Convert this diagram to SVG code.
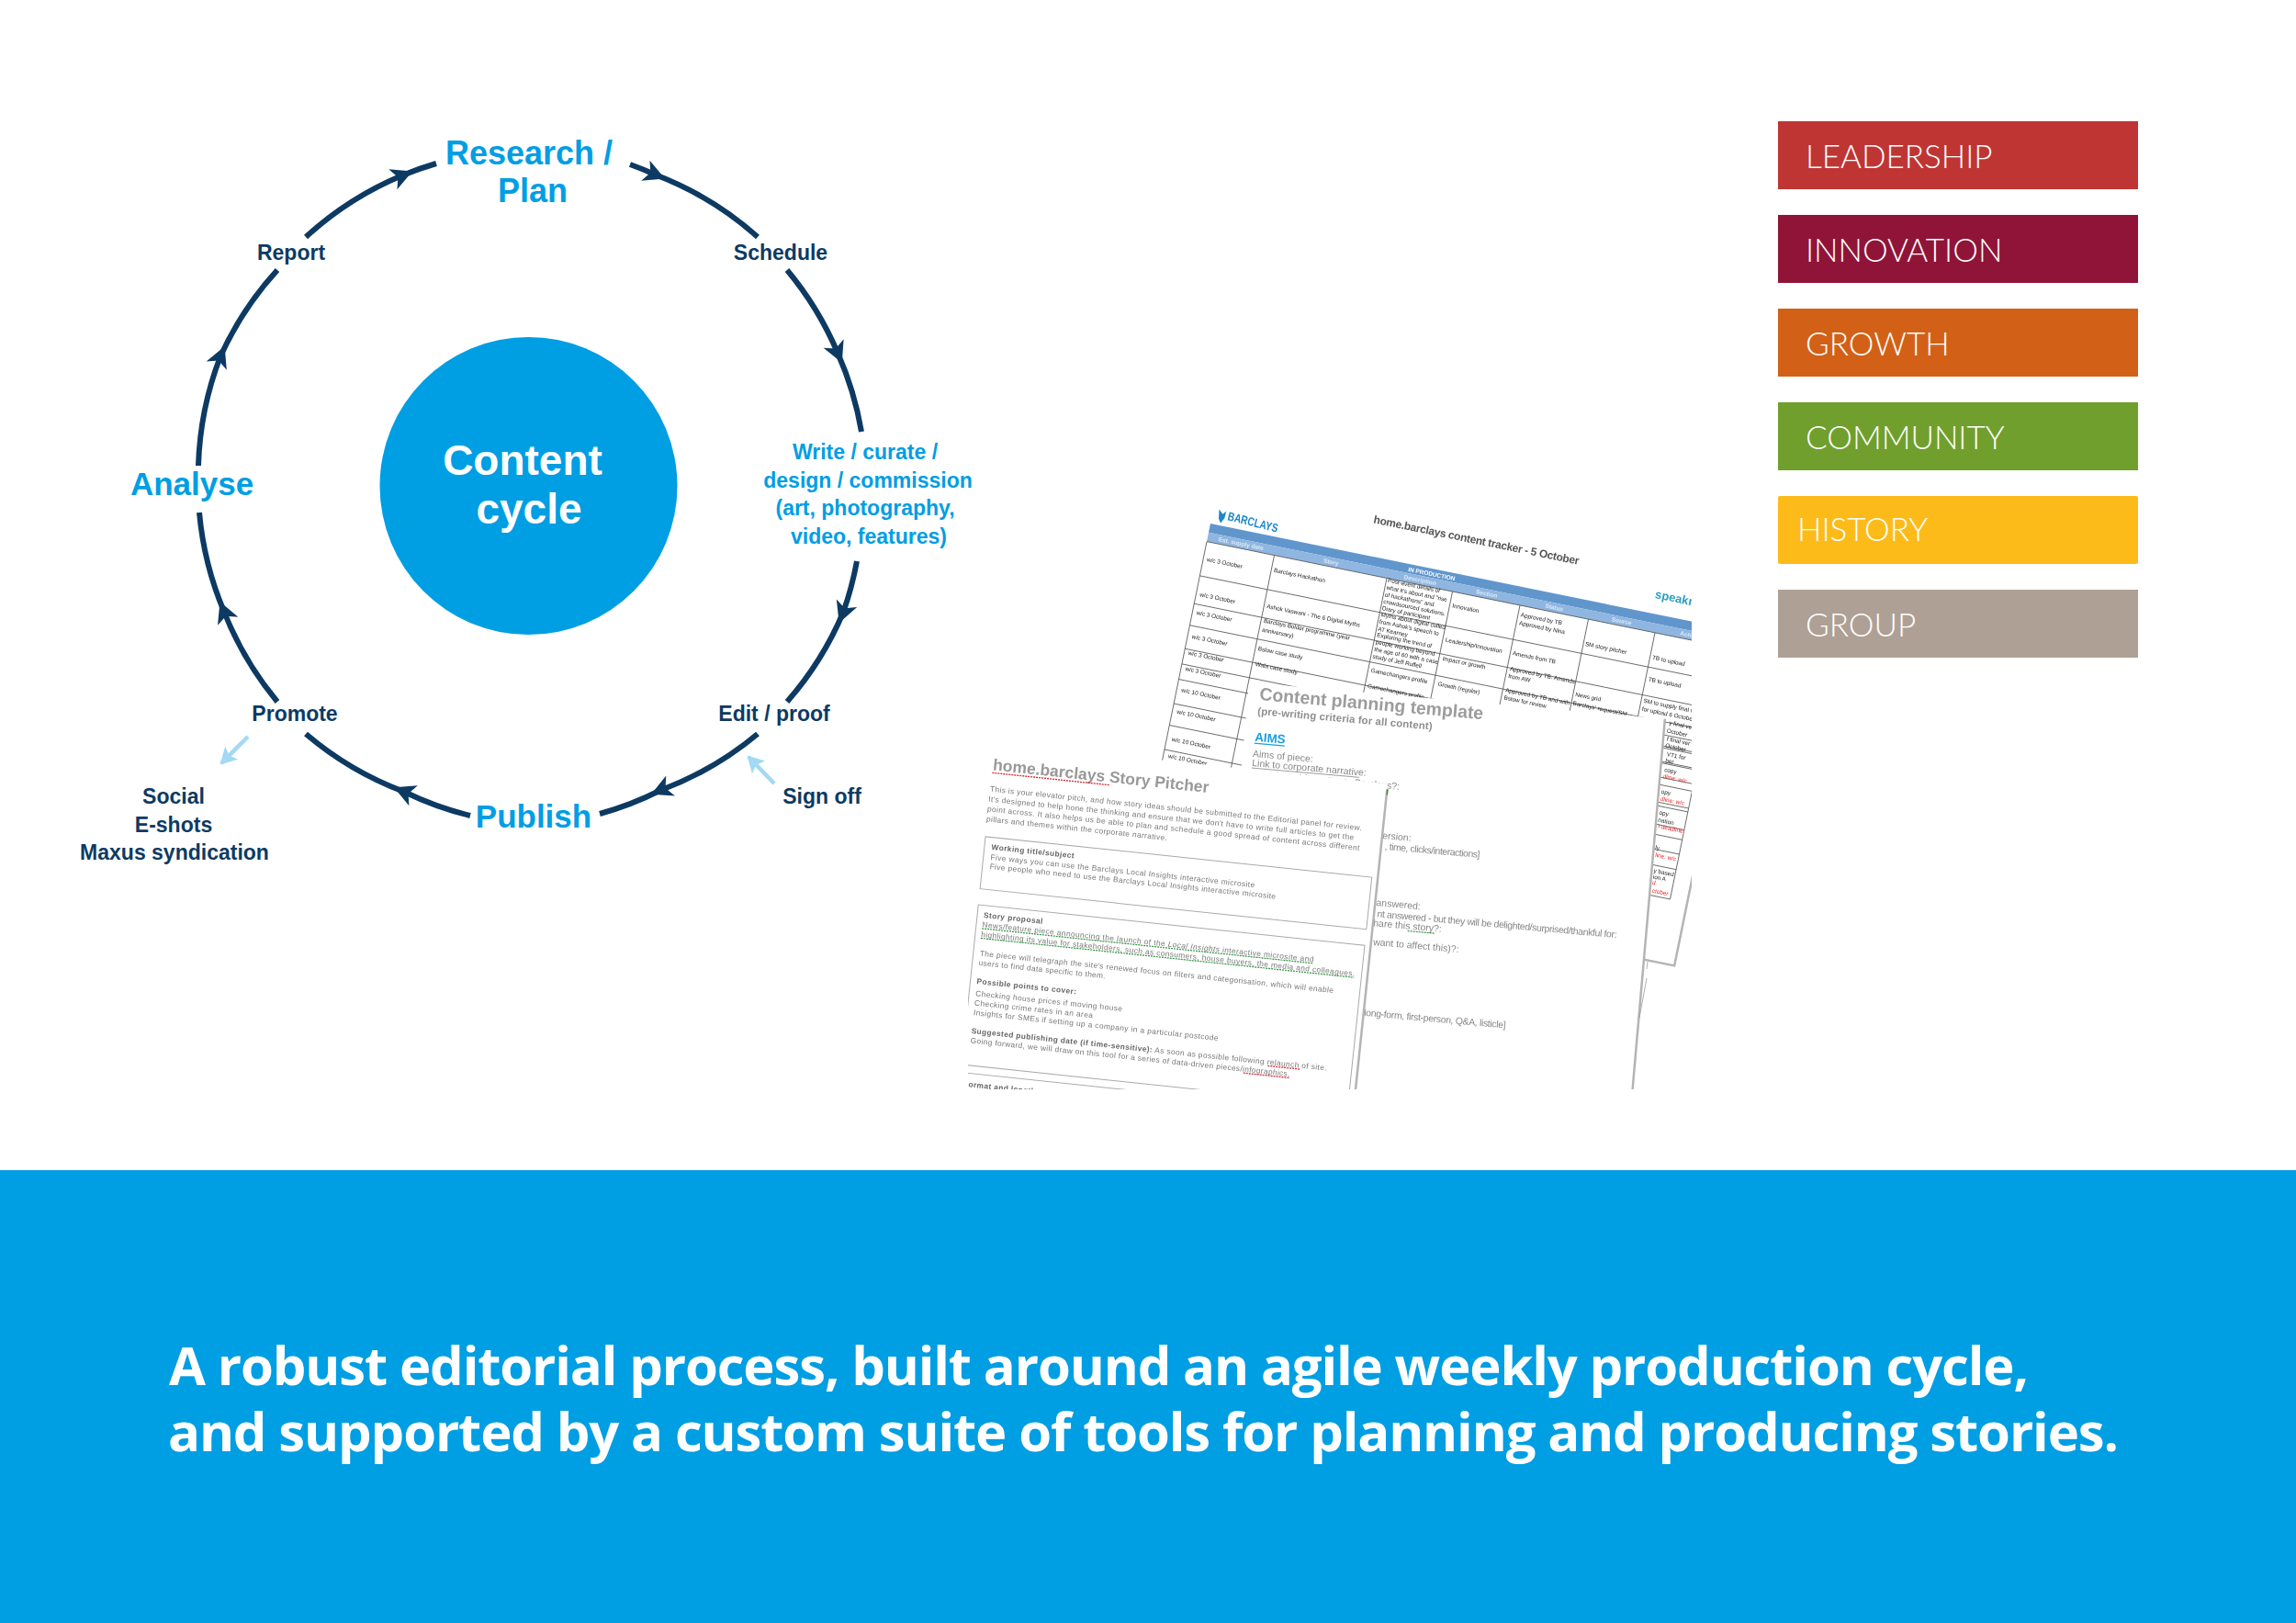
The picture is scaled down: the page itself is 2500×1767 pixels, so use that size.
<svg xmlns="http://www.w3.org/2000/svg" width="2500" height="1767" viewBox="0 0 2500 1767">
<style>
text{font-family:"Liberation Sans",Arial,sans-serif}
.ring{fill:none;stroke:#0d3a63;stroke-width:6;marker-mid:url(#head)}
.pale{fill:none;stroke:#a3d9f5;stroke-width:4.5;marker-end:url(#palehead)}
.big{font-size:36px;font-weight:700;fill:#009ee3;text-anchor:middle}
.step{font-size:23px;font-weight:700;fill:#0d3a63;text-anchor:middle}
.wr{font-size:23px;font-weight:700;fill:#009ee3;text-anchor:middle}
.hub{font-size:46px;font-weight:700;fill:#fff;text-anchor:middle}
.tag{font-family:Lato,"Open Sans",sans-serif;font-weight:300;font-size:35px;fill:#fff}
.ban{font-family:"Open Sans",sans-serif;font-weight:700;font-size:58px;fill:#fff}
.t{font-size:6.4px;fill:#222}
.th{font-size:6.5px;fill:#dbe9f6;font-weight:700;text-anchor:middle}
.r{font-size:6.4px;fill:#e8262a}
.tl{stroke:#555;stroke-width:.8;fill:none}
.p{font-size:10.5px;fill:#888}
.b{font-size:8.4px;fill:#777}
.bb{font-size:8.4px;fill:#666;font-weight:700}
.box{fill:none;stroke:#aaa;stroke-width:1}
.red{stroke:#d9232e;stroke-width:1.3;stroke-dasharray:2 1;fill:none}
.grn{stroke:#2f9140;stroke-width:1.2;stroke-dasharray:2 1;fill:none}
.shade{stroke:#b4b4b4;stroke-width:2.5;fill:none}
</style>
<defs>
<marker id="head" markerUnits="userSpaceOnUse" markerWidth="30" markerHeight="30" refX="15" refY="15" orient="auto"><path d="M4,3 L27,15 L4,27 L10,15 Z" fill="#0d3a63"/></marker>
<marker id="palehead" markerUnits="userSpaceOnUse" markerWidth="24" markerHeight="24" refX="18" refY="12" orient="auto"><path d="M2,2 L20,12 L2,22 L6,12 Z" fill="#a3d9f5"/></marker>
<clipPath id="docclip"><rect x="1054" y="520" width="788" height="666"/></clipPath>
<filter id="soft" x="-5%" y="-5%" width="110%" height="110%"><feGaussianBlur stdDeviation="0.45"/></filter>
</defs>
<rect width="2500" height="1767" fill="#fff"/>

<g id="connectors">
<path class="ring" d="M686,179 A360,360 0 0 1 713,190 A360,360 0 0 1 825,258"/>
<path class="ring" d="M857,294 A360,360 0 0 1 912,384 A360,360 0 0 1 938,470"/>
<path class="ring" d="M933,611 A360,360 0 0 1 918,667 A360,360 0 0 1 857,764"/>
<path class="ring" d="M825,799 A360,360 0 0 1 720,860 A360,360 0 0 1 653,886"/>
<path class="ring" d="M512,888 A360,360 0 0 1 440,862 A360,360 0 0 1 333,799"/>
<path class="ring" d="M302,764 A360,360 0 0 1 244,666 A360,360 0 0 1 217,558"/>
<path class="ring" d="M216,507 A360,360 0 0 1 240,388 A360,360 0 0 1 302,294"/>
<path class="ring" d="M333,258 A360,360 0 0 1 438,191 A360,360 0 0 1 475,178"/>
<path class="pale" d="M270,802 L241,831"/>
<path class="pale" d="M843,853 L815,824"/>
</g>

<g id="hub"><circle cx="575.500" cy="529" r="162" fill="#009ee3"/><text class="hub" x="569" y="517">Content</text><text class="hub" x="576" y="570">cycle</text></g>
<g id="research"><text class="big" x="576" y="179">Research /</text><text class="big" x="580" y="220">Plan</text></g>
<g id="schedule"><text class="step" x="850" y="283">Schedule</text></g>
<g id="write"><text class="wr" x="942" y="500">Write / curate /</text><text class="wr" x="945" y="531">design / commission</text><text class="wr" x="942" y="561">(art, photography,</text><text class="wr" x="946" y="592">video, features)</text></g>
<g id="edit"><text class="step" x="843" y="785">Edit / proof</text></g>
<g id="signoff"><text class="step" x="895" y="875">Sign off</text></g>
<g id="publish"><text class="big" x="581" y="901" style="font-size:35px">Publish</text></g>
<g id="promote"><text class="step" x="321" y="785">Promote</text></g>
<g id="channels"><text class="step" x="189" y="875">Social</text><text class="step" x="189" y="906">E-shots</text><text class="step" x="190" y="936">Maxus syndication</text></g>
<g id="analyse"><text class="big" x="209" y="539" style="font-size:35px">Analyse</text></g>
<g id="report"><text class="step" x="317" y="283">Report</text></g>

<g id="tag-leadership"><rect x="1936" y="132" width="392" height="74" fill="#bf3534"/><text class="tag" x="1966" y="183">LEADERSHIP</text></g>
<g id="tag-innovation"><rect x="1936" y="234" width="392" height="74" fill="#901438"/><text class="tag" x="1966" y="285">INNOVATION</text></g>
<g id="tag-growth"><rect x="1936" y="336" width="392" height="74" fill="#d26117"/><text class="tag" x="1966" y="387">GROWTH</text></g>
<g id="tag-community"><rect x="1936" y="438" width="392" height="74" fill="#709f2d"/><text class="tag" x="1966" y="489">COMMUNITY</text></g>
<g id="tag-history"><rect x="1936" y="540" width="392" height="74" rx="2" fill="#fdbb1a"/><text class="tag" x="1957" y="589">HISTORY</text></g>
<g id="tag-group"><rect x="1936" y="642" width="392" height="74" fill="#aea094"/><text class="tag" x="1966" y="693">GROUP</text></g>

<g id="documents" clip-path="url(#docclip)">
<g filter="url(#soft)">
<g id="tracker" transform="translate(1318,570) rotate(11.5)">
<rect x="0" y="0" width="600" height="10" fill="#6096cc"/>
<rect x="0" y="10" width="600" height="10" fill="#8fb6e0"/>
<path class="tl" d="M0,20H572M0,58H572M0,89H572M0,113H572M0,139H572M0,156H572M0,173H572M0,200H572M0,224H572M0,251H572M500,127H572M500,141H572M500,157.5H572M500,181H572M500,204H572M500,235H572M500,268H572M500,301H572M0,20V300M75,20V300M200,20V300M273,20V300M348,20V300M424,20V300M498,20V300M572,20V301"/>
<path class="shade" d="M540,371H591V240"/>
<text x="173.400" y="-36" font-size="12" font-weight="700" fill="#555" textLength="228">home.barclays content tracker - 5 October</text>
<text x="490" y="-17" font-size="13" font-weight="700" fill="#2a9fbf">speakn</text>
<text x="221" y="8" class="th" style="text-anchor:start;fill:#fff">IN PRODUCTION</text>
<text class="th" x="37" y="17">Est. supply date</text><text class="th" x="137" y="17">Story</text><text class="th" x="236" y="17">Description</text><text class="th" x="310" y="17">Section</text><text class="th" x="385" y="17">Status</text><text class="th" x="460" y="17">Source</text><text class="th" x="535" y="17">Action</text>
<text class="t" x="4" y="41">w/c 3 October</text><text class="t" x="4" y="80">w/c 3 October</text><text class="t" x="4.500" y="100">w/c 3 October</text><text class="t" x="4.700" y="126.600">w/c 3 October</text><text class="t" x="4.500" y="144.700">w/c 3 October</text><text class="t" x="4.600" y="162.400">w/c 3 October</text><text class="t" x="5.300" y="186">w/c 10 October</text><text class="t" x="5" y="210">w/c 10 October</text><text class="t" x="5.600" y="240.500">w/c 10 October</text><text class="t" x="5.400" y="259">w/c 10 October</text>
<text class="t" x="78" y="38">Barclays Hackathon</text><text class="t" x="78" y="78">Ashok Vaswani - The 6 Digital Myths</text><text class="t" x="78" y="94">Barclays Bolder programme (year</text><text class="t" x="78" y="104">anniversary)</text><text class="t" x="78" y="125">Bslow case study</text><text class="t" x="78.500" y="142">Wala case study</text>
<text class="t" x="201.600" y="24">Post-event details of</text><text class="t" x="201.600" y="32">what it's about and "rise</text><text class="t" x="201.600" y="40">of hackathons" and</text><text class="t" x="201.600" y="47.500">crowdsourced solutions.</text><text class="t" x="201.600" y="55">Diary of participant</text>
<text class="t" x="201.600" y="62">Myths about digital culled</text><text class="t" x="201.600" y="70">from Ashok's speech to</text><text class="t" x="201.600" y="78">AT Kearney</text>
<text class="t" x="202" y="84.600">Exploring the trend of</text><text class="t" x="202" y="92.500">people working beyond</text><text class="t" x="202" y="100.500">the age of 60 with a case</text><text class="t" x="202" y="108.500">study of Jeff Ruffell</text>
<text class="t" x="203" y="123.700">Gamechangers profile</text><text class="t" x="203" y="141">Gamechangers profile</text>
<text class="t" x="276" y="37">Innovation</text><text class="t" x="276" y="75">Leadership/Innovation</text><text class="t" x="277" y="95.600">Impact or growth</text><text class="t" x="277.400" y="123.800">Growth  (regular)</text>
<text class="t" x="351" y="32">Approved by TB</text><text class="t" x="351" y="41">Approved by Nina</text><text class="t" x="350.600" y="74.700">Amends from TB</text><text class="t" x="351" y="91.800">Approved by TB. Amends</text><text class="t" x="351" y="100">from AW</text><text class="t" x="351" y="115.600">Approved by TB and with</text><text class="t" x="351" y="124">Bstow for review</text>
<text class="t" x="426" y="49">SM story pitcher</text><text class="t" x="426.400" y="105">News grid</text><text class="t" x="425.700" y="115">Barclays' request/SM</text>
<text class="t" x="500.600" y="49">TB to upload</text><text class="t" x="501" y="73">TB to upload</text><text class="t" x="500.600" y="97">SM to supply final v</text><text class="t" x="500.600" y="106">for upload 6 October</text>
<text class="t" x="532.600" y="115">y final ve</text><text class="t" x="532" y="124">October</text><text class="t" x="533.700" y="132.700">f final ver</text><text class="t" x="533.600" y="140">October</text><text class="t" x="537" y="149">VT1 for</text><text class="t" x="536.800" y="156">ber</text><text class="t" x="537.800" y="166">copy</text><text class="r" x="537.600" y="173.400">dline: w/c</text><text class="t" x="539.300" y="190">opy</text><text class="r" x="539.800" y="197.800">dline: w/c</text><text class="t" x="541.600" y="212.800">opy</text><text class="t" x="542" y="221">nation</text><text class="r" x="543.600" y="227.700">l deadline</text><text class="t" x="545" y="251">ly</text><text class="r" x="546.600" y="259">line: w/c</text><text class="t" x="548.400" y="276">y based</text><text class="t" x="549" y="282.700">ion A</text><text class="r" x="549.400" y="289">d</text><text class="r" x="551" y="297.700">ctober</text>
</g>
<g id="barclays-logo" transform="translate(1336,566) rotate(14)">
<path d="M-11,-9 L-6,-5 L-3,-9 L-3,-1 L-6,5 L-9,1 Z" fill="#1a87c8"/>
<text x="0" y="0" font-size="13" font-weight="700" fill="#1a87c8" textLength="56" lengthAdjust="spacingAndGlyphs">BARCLAYS</text>
</g>

<g id="template" transform="translate(1371,762) rotate(5)">
<rect x="-12.600" y="-18" width="454.600" height="600" fill="#fff"/>
<path class="shade" d="M442,-18V580"/>
<text x="0" y="0" font-size="19.400" font-weight="700" fill="#9c9c9c">Content planning template</text>
<text x="-0.600" y="16" font-size="11.500" font-weight="700" fill="#8f8f8f" textLength="191">(pre-writing criteria for all content)</text>
<text x="-1.200" y="45" font-size="13.400" font-weight="700" fill="#1a9fe0">AIMS</text>
<path d="M-1.200,47.500H32" stroke="#1a9fe0" stroke-width="1.2"/>
<text class="p" x="-1.800" y="62.400">Aims of piece:</text>
<text class="p" x="-1.700" y="72.400">Link to corporate narrative:</text>
<path d="M-1.700,74.500H116" stroke="#888" stroke-width=".8"/>
<text class="p" x="-1.700" y="84">Why does this matter to Barclays?:</text>
<text class="p" x="146.600" y="138.700">ersion:</text>
<text class="p" x="150.300" y="150.400" textLength="104">, time, clicks/interactions]</text>
<text class="p" x="146.300" y="212">answered:</text>
<text class="p" x="148.400" y="224.200" textLength="262">nt answered - but they will be delighted/surprised/thankful for:</text>
<text class="p" x="145" y="234.500">hare this story?:</text>
<path class="grn" d="M183,236.500H212"/>
<text class="p" x="146.700" y="255.100">want to affect this)?:</text>
<text class="p" x="143.500" y="332.700" textLength="155">long-form, first-person, Q&amp;A, listicle]</text>
</g>
<path class="tl" d="M1794,1047L1793,1055M1793,1065L1785,1108" style="stroke:#999"/>

<g id="pitcher" transform="translate(1080.700,838.300) rotate(6)">
<rect x="-60" y="-30" width="489.500" height="600" fill="#fff"/>
<path class="shade" d="M429.500,-24V570"/>
<path d="M430,-24V-18" stroke="#2f9140" stroke-width="1.500"/>
<text x="0" y="0" font-size="17.500" font-weight="700" fill="#999">home.barclays Story Pitcher</text>
<path class="red" d="M0,3H128"/>
<text class="b" x="-0.500" y="23.500" textLength="407">This is your elevator pitch, and how story ideas should be submitted to the Editorial panel for review.</text>
<text class="b" x="-1" y="34.600" textLength="400">It's designed to help hone the thinking and ensure that we don't have to write full articles to get the</text>
<text class="b" x="-1.300" y="45.400" textLength="407.600">point across. It also helps us be able to plan and schedule a good spread of content across different</text>
<text class="b" x="-1.100" y="56.400" textLength="198">pillars and themes within the corporate narrative.</text>
<rect class="box" x="0" y="73" width="423" height="57"/>
<text class="bb" x="7.700" y="86.300" textLength="90.500">Working title/subject</text>
<text class="b" x="7.900" y="97.400" textLength="289">Five ways you can use the Barclays Local Insights interactive microsite</text>
<text class="b" x="8" y="107.400" textLength="313">Five people who need to use the Barclays Local Insights interactive microsite</text>
<rect class="box" x="0" y="147.500" width="423" height="175"/>
<text class="bb" x="6.900" y="160.800" textLength="64.700">Story proposal</text>
<text class="b" x="6.600" y="171.300" textLength="362.700">News/feature piece announcing the launch of the <tspan font-style="italic">Local Insights</tspan> interactive microsite and</text>
<path class="grn" d="M6.600,172.800H369"/>
<text class="b" x="6.400" y="182" textLength="409">highlighting its value for stakeholders, such as consumers, house buyers, the media and colleagues.</text>
<path class="grn" d="M6.400,183.500H415"/>
<text class="b" x="7.200" y="202.700" textLength="387">The piece will telegraph the site's renewed focus on filters and categorisation, which will enable</text>
<text class="b" x="7" y="213" textLength="138.800">users to find data specific to them.</text>
<text class="bb" x="7" y="233.200" textLength="109">Possible points to cover:</text>
<text class="b" x="7.100" y="246.600" textLength="160.600">Checking house prices if moving house</text>
<text class="b" x="7" y="257" textLength="129.500">Checking crime rates in an area</text>
<text class="b" x="7" y="267.500" textLength="268">Insights for SMEs if setting up a company in a particular postcode</text>
<text class="b" x="6.800" y="287.500" textLength="389"><tspan class="bb">Suggested publishing date (if time-sensitive):</tspan> As soon as possible following relaunch of site.</text>
<path class="red" d="M331.600,289H367"/>
<text class="b" x="7" y="298" textLength="349.600">Going forward, we will draw on this tool for a series of data-driven pieces/infographics.</text>
<path class="red" d="M306,299.500H357"/>
<rect class="box" x="0" y="331" width="423" height="200"/>
<text class="bb" x="9.800" y="345.800" textLength="73.500">ormat and length</text>
</g>
</g>
</g>

<g id="banner">
<rect x="0" y="1274" width="2500" height="493" fill="#009ee3"/>
<text class="ban" x="184" y="1508" textLength="2025">A robust editorial process, built around an agile weekly production cycle,</text>
<text class="ban" x="183" y="1580" textLength="2124">and supported by a custom suite of tools for planning and producing stories.</text>
</g>
</svg>
